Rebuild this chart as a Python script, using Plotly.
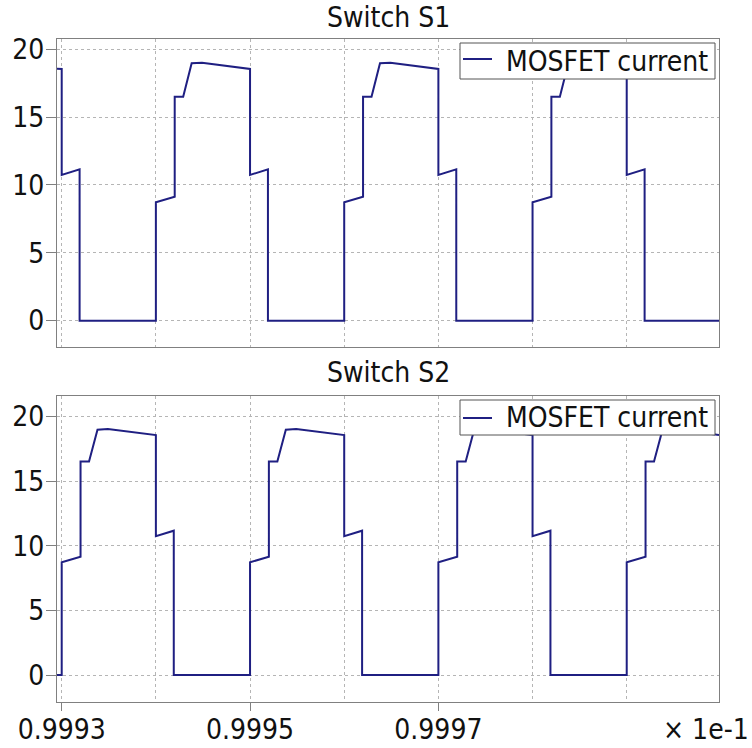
import plotly.graph_objects as go

# time axis values (displayed units, × 1e-1 s)
s1_t = [0.999295, 0.99930, 0.99930, 0.999319, 0.999319,
        0.99940, 0.99940, 0.99942, 0.99942, 0.999429, 0.999438, 0.999449, 0.99950, 0.99950, 0.999519, 0.999519,
        0.99960, 0.99960, 0.99962, 0.99962, 0.999629, 0.999638, 0.999649, 0.99970, 0.99970, 0.999719, 0.999719,
        0.99980, 0.99980, 0.99982, 0.99982, 0.999829, 0.999838, 0.999849, 0.99990, 0.99990, 0.999919, 0.999919,
        0.999998]
s1_i = [18.56, 18.55, 10.74, 11.16, 0,
        0, 8.72, 9.14, 16.5, 16.5, 18.97, 19.01, 18.55, 10.74, 11.16, 0,
        0, 8.72, 9.14, 16.5, 16.5, 18.97, 19.01, 18.55, 10.74, 11.16, 0,
        0, 8.72, 9.14, 16.5, 16.5, 18.97, 19.01, 18.55, 10.74, 11.16, 0,
        0]

s2_t = [0.999295, 0.99930, 0.99930, 0.99932, 0.99932, 0.999329, 0.999338, 0.999349, 0.99940, 0.99940, 0.999419, 0.999419,
        0.99950, 0.99950, 0.99952, 0.99952, 0.999529, 0.999538, 0.999549, 0.99960, 0.99960, 0.999619, 0.999619,
        0.99970, 0.99970, 0.99972, 0.99972, 0.999729, 0.999738, 0.999749, 0.99980, 0.99980, 0.999819, 0.999819,
        0.99990, 0.99990, 0.99992, 0.99992, 0.999929, 0.999938, 0.999949, 0.999998]
s2_i = [0, 0, 8.72, 9.14, 16.5, 16.5, 18.97, 19.01, 18.55, 10.74, 11.16, 0,
        0, 8.72, 9.14, 16.5, 16.5, 18.97, 19.01, 18.55, 10.74, 11.16, 0,
        0, 8.72, 9.14, 16.5, 16.5, 18.97, 19.01, 18.55, 10.74, 11.16, 0,
        0, 8.72, 9.14, 16.5, 16.5, 18.97, 19.01, 18.56]

x_tickvals = [0.9993, 0.9995, 0.9997]
x_ticktext = ["0.9993", "0.9995", "0.9997"]
x_gridvals = [0.9994, 0.9996, 0.9998, 0.9999]
y_tickvals = [0, 5, 10, 15, 20]
titles = ["Switch S1", "Switch S2"]
series_name = "MOSFET current"
x_scale_text = "× 1e-1"

FONT = "DejaVu Sans Condensed, DejaVu Sans, sans-serif"
LINE = "#1f1f82"
GRID = "#b5b5b5"
FRAME = "#808080"
FS = 28

# page geometry (body margin removed, figure fills the window)
FW, FH = 752, 748
PL, PR, PT, PB = 57, 719, 39, 702
W, H = PR - PL, PB - PT


def px(x):
    return (x - PL) / W


def py(y):
    return (PB - y) / H


fig = go.Figure()
fig.add_trace(go.Scatter(x=s1_t, y=s1_i, mode="lines", name=series_name, showlegend=False,
                         line=dict(color=LINE, width=2), xaxis="x", yaxis="y"))
fig.add_trace(go.Scatter(x=s2_t, y=s2_i, mode="lines", name=series_name, showlegend=False,
                         line=dict(color=LINE, width=2), xaxis="x2", yaxis="y2"))

xcommon = dict(range=[0.999295, 0.999998], tickvals=x_tickvals, ticktext=x_ticktext, automargin=False,
               showgrid=True, gridcolor=GRID, griddash="dot", gridwidth=1,
               minor=dict(tickvals=x_gridvals, showgrid=True, gridcolor=GRID, griddash="dot", gridwidth=1, ticks=""),
               showline=True, linecolor=FRAME, linewidth=1, mirror=True, zeroline=False,
               tickfont=dict(family=FONT, size=FS, color="#111"))
ycommon = dict(tickvals=y_tickvals, showgrid=True, gridcolor=GRID, griddash="dot", gridwidth=1, automargin=False,
               showline=True, linecolor=FRAME, linewidth=1, mirror=True, zeroline=False,
               ticks="outside", ticklen=10, tickcolor=FRAME, ticklabelstandoff=-4,
               tickfont=dict(family=FONT, size=FS, color="#111"))

annotations = [
    dict(text=titles[0], x=0.5, y=py(18), xref="paper", yref="paper",
         xanchor="center", yanchor="middle", showarrow=False, font=dict(family=FONT, size=FS, color="#111")),
    dict(text=titles[1], x=0.5, y=py(372), xref="paper", yref="paper",
         xanchor="center", yanchor="middle", showarrow=False, font=dict(family=FONT, size=FS, color="#111")),
    dict(text=x_scale_text, x=px(706), y=py(729), xref="paper", yref="paper",
         xanchor="center", yanchor="middle", showarrow=False, font=dict(family=FONT, size=FS, color="#111")),
]
shapes = []
# legend boxes (top and bottom panel)
for top, bottom, liney in [(43, 79, 59), (400, 435, 418)]:
    shapes.append(dict(type="rect", xref="paper", yref="paper", x0=px(460), x1=px(715),
                       y0=py(bottom), y1=py(top), fillcolor="white", line=dict(color="#555", width=1)))
    shapes.append(dict(type="line", xref="paper", yref="paper", x0=px(463), x1=px(492),
                       y0=py(liney), y1=py(liney), line=dict(color=LINE, width=2)))
    annotations.append(dict(text=series_name, x=px(710), y=py((top + bottom) / 2), xref="paper", yref="paper",
                            xanchor="right", yanchor="middle", showarrow=False,
                            font=dict(family=FONT, size=FS, color="#111")))

fig.update_layout(
    width=FW, height=FH,
    margin=dict(l=PL, r=FW - PR, t=PT, b=FH - PB),
    paper_bgcolor="white", plot_bgcolor="white",
    font=dict(family=FONT, size=FS, color="#111"),
    xaxis=dict(xcommon, domain=[0, 1], anchor="y", showticklabels=False, ticks=""),
    yaxis=dict(ycommon, domain=[py(347), 1], anchor="x", range=[-1.94, 20.76]),
    xaxis2=dict(xcommon, domain=[0, 1], anchor="y2", ticks="outside", ticklen=8, tickcolor=FRAME,
                ticklabelstandoff=-6),
    yaxis2=dict(ycommon, domain=[0, py(396)], anchor="x2", range=[-2.08, 21.57]),
    showlegend=False,
    annotations=annotations,
    shapes=shapes,
)

fig.write_html("out.html", config={"displayModeBar": False},
               post_script="document.body.style.margin='0';document.body.style.overflow='hidden';")
